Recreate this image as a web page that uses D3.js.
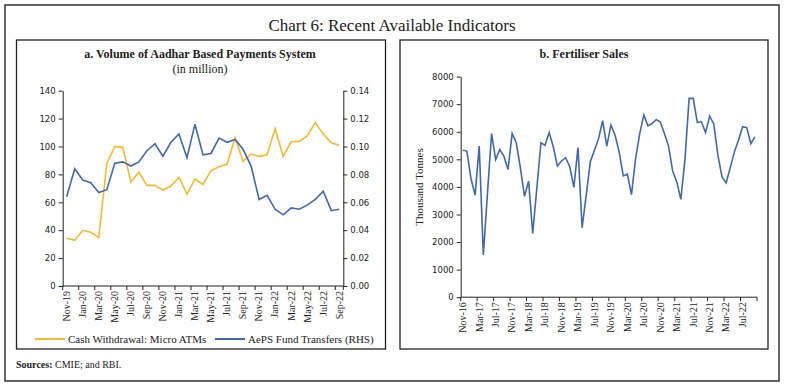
<!DOCTYPE html>
<html>
<head>
<meta charset="utf-8">
<script src="https://cdn.jsdelivr.net/npm/d3@7"></script>
<style>
  body { margin: 0; background: #fff; }
  .tick text { font-family: "DejaVu Sans", Verdana, sans-serif; font-size: 8.5px; fill: #222; }
  .xlab text { font-family: "Liberation Serif", "Times New Roman", serif; font-size: 10px; }
  .domain, .tick line { stroke: #222; }
</style>
</head>
<body>
<div id="chart"></div>
<script>
// Panel a: Aadhar based payments, Nov-19 .. Sep-22
const aepsMonths = ['Nov-19','Dec-19','Jan-20','Feb-20','Mar-20','Apr-20','May-20','Jun-20','Jul-20','Aug-20',
  'Sep-20','Oct-20','Nov-20','Dec-20','Jan-21','Feb-21','Mar-21','Apr-21','May-21','Jun-21','Jul-21','Aug-21',
  'Sep-21','Oct-21','Nov-21','Dec-21','Jan-22','Feb-22','Mar-22','Apr-22','May-22','Jun-22','Jul-22','Aug-22','Sep-22'];
const cashWithdrawal = [34.2, 32.7, 39.9, 38.5, 34.9, 87.9, 100.1, 99.4, 74.5, 81.7, 72.1, 72.1, 68.8, 71.7,
  77.9, 65.9, 76.7, 72.9, 82.7, 85.5, 87.2, 106.3, 89.3, 94.6, 92.9, 94.1, 112.8, 92.9, 103.4, 103.7, 107.5,
  117.1, 108.9, 102.7, 100.8];
const aepsTransfers = [0.064, 0.084, 0.076, 0.074, 0.067, 0.069, 0.088, 0.089, 0.086, 0.089, 0.097, 0.102,
  0.093, 0.103, 0.109, 0.092, 0.116, 0.094, 0.095, 0.106, 0.103, 0.105, 0.098, 0.086, 0.062, 0.065, 0.055,
  0.051, 0.056, 0.055, 0.058, 0.062, 0.068, 0.054, 0.055];
const leftTicks = [0, 20, 40, 60, 80, 100, 120, 140];
const rightTicks = [0, 0.02, 0.04, 0.06, 0.08, 0.10, 0.12, 0.14];

// Panel b: fertiliser sales, Nov-16 .. Oct-22
const fertMonths = ['Nov-16','Dec-16',
  'Jan-17','Feb-17','Mar-17','Apr-17','May-17','Jun-17','Jul-17','Aug-17','Sep-17','Oct-17','Nov-17','Dec-17',
  'Jan-18','Feb-18','Mar-18','Apr-18','May-18','Jun-18','Jul-18','Aug-18','Sep-18','Oct-18','Nov-18','Dec-18',
  'Jan-19','Feb-19','Mar-19','Apr-19','May-19','Jun-19','Jul-19','Aug-19','Sep-19','Oct-19','Nov-19','Dec-19',
  'Jan-20','Feb-20','Mar-20','Apr-20','May-20','Jun-20','Jul-20','Aug-20','Sep-20','Oct-20','Nov-20','Dec-20',
  'Jan-21','Feb-21','Mar-21','Apr-21','May-21','Jun-21','Jul-21','Aug-21','Sep-21','Oct-21','Nov-21','Dec-21',
  'Jan-22','Feb-22','Mar-22','Apr-22','May-22','Jun-22','Jul-22','Aug-22','Sep-22','Oct-22'];
const fertiliser = [5330, 5300, 4300, 3700, 5480, 1530, 3750, 5935, 4990, 5355, 5110, 4630, 5935, 5600, 4700,
  3660, 4210, 2310, 3950, 5600, 5510, 5970, 5450, 4760, 4940, 5060, 4730, 3980, 5430, 2520, 3700, 4910, 5330,
  5750, 6400, 5480, 6240, 5880, 5270, 4400, 4460, 3720, 5030, 5935, 6610, 6215, 6300, 6440, 6360, 5935, 5480,
  4580, 4180, 3550, 5000, 7210, 7210, 6335, 6360, 5970, 6565, 6275, 5150, 4360, 4145, 4700, 5270, 5690, 6180,
  6150, 5570, 5815];
const fertTicks = [0, 1000, 2000, 3000, 4000, 5000, 6000, 7000, 8000];

const yellow = '#f9b92c';
const blue = '#4068b2';
const serif = '"Liberation Serif", "Times New Roman", serif';

let svg = d3.select('#chart')
            .append('svg')
            .attr('width', 785)
            .attr('height', 386);

// Frames
svg.append('rect').attr('x', 5).attr('y', 5).attr('width', 774).attr('height', 376)
   .attr('fill', 'none').attr('stroke', '#333').attr('stroke-width', 1.5);
svg.append('rect').attr('x', 16.5).attr('y', 40).attr('width', 369).attr('height', 309)
   .attr('fill', 'none').attr('stroke', '#222').attr('stroke-width', 1.3);
svg.append('rect').attr('x', 400).attr('y', 40).attr('width', 368).attr('height', 309)
   .attr('fill', 'none').attr('stroke', '#222').attr('stroke-width', 1.3);

// Titles
svg.append('text').attr('x', 392).attr('y', 31).attr('text-anchor', 'middle')
   .style('font-family', serif).style('font-size', '17px').attr('fill', '#222')
   .text('Chart 6: Recent Available Indicators');
svg.append('text').attr('x', 200).attr('y', 58).attr('text-anchor', 'middle')
   .style('font-family', serif).style('font-size', '12px').style('font-weight', 'bold').attr('fill', '#222')
   .text('a. Volume of Aadhar Based Payments System');
svg.append('text').attr('x', 200).attr('y', 73).attr('text-anchor', 'middle')
   .style('font-family', serif).style('font-size', '12px').attr('fill', '#222')
   .text('(in million)');
svg.append('text').attr('x', 584).attr('y', 58).attr('text-anchor', 'middle')
   .style('font-family', serif).style('font-size', '12px').style('font-weight', 'bold').attr('fill', '#222')
   .text('b. Fertiliser Sales');

// Category axis: labels at band centres, ticks on band edges
function categoryAxis(g, x, step, y) {
  let labels = x.domain().filter((d, i) => i % step === 0);
  let edges = labels.map(d => x(d)).concat([x.range()[1]]);
  g.append('line').attr('x1', x.range()[0]).attr('x2', x.range()[1]).attr('y1', y).attr('y2', y)
   .attr('stroke', '#222');
  g.selectAll('.xt').data(edges).enter().append('line')
   .attr('x1', d => d).attr('x2', d => d).attr('y1', y).attr('y2', y + 4).attr('stroke', '#222');
  g.append('g').attr('class', 'xlab').selectAll('text').data(labels).enter().append('text')
   .attr('transform', d => 'translate(' + (x(d) + x.bandwidth() / 2) + ',' + (y + 5) + ') rotate(-90)')
   .attr('dy', '0.33em').attr('text-anchor', 'end').attr('fill', '#222')
   .text(d => d);
}

// ---- Panel a ----
let xa = d3.scaleBand().domain(aepsMonths).range([62.7, 343.3]);
let ya = d3.scaleLinear().domain([0, 140]).range([286, 90.7]);
let yb = d3.scaleLinear().domain([0, 0.14]).range([286, 90.7]);
let pa = svg.append('g');

pa.append('g').attr('transform', 'translate(62.7,0)')
  .call(d3.axisLeft(ya).tickValues(leftTicks).tickSize(4).tickSizeOuter(0));
pa.append('g').attr('transform', 'translate(343.3,0)')
  .call(d3.axisRight(yb).tickValues(rightTicks).tickFormat(d3.format('.2f')).tickSize(4).tickSizeOuter(0));
categoryAxis(pa, xa, 2, 286);

let lineCash = d3.line().x((d, i) => xa(aepsMonths[i]) + xa.bandwidth() / 2).y(d => ya(d));
let lineAeps = d3.line().x((d, i) => xa(aepsMonths[i]) + xa.bandwidth() / 2).y(d => yb(d));
pa.append('path').datum(cashWithdrawal).attr('d', lineCash)
  .attr('fill', 'none').attr('stroke', yellow).attr('stroke-width', 1.6);
pa.append('path').datum(aepsTransfers).attr('d', lineAeps)
  .attr('fill', 'none').attr('stroke', blue).attr('stroke-width', 1.6);

// Legend
let legend = [{name: 'Cash Withdrawal: Micro ATMs', color: yellow, x: 35},
              {name: 'AePS Fund Transfers (RHS)', color: blue, x: 215}];
let lg = pa.selectAll('.lg').data(legend).enter().append('g');
lg.append('line').attr('x1', d => d.x).attr('x2', d => d.x + 30).attr('y1', 339).attr('y2', 339)
  .attr('stroke', d => d.color).attr('stroke-width', 2);
lg.append('text').attr('x', d => d.x + 33).attr('y', 339).attr('dy', '0.33em')
  .style('font-family', serif).style('font-size', '11px').attr('fill', '#222')
  .text(d => d.name);

// ---- Panel b ----
let xf = d3.scaleBand().domain(fertMonths).range([460.7, 757]);
let yf = d3.scaleLinear().domain([0, 8000]).range([297.2, 76.6]);
let pb = svg.append('g');

pb.append('g').attr('transform', 'translate(460.7,0)')
  .call(d3.axisLeft(yf).tickValues(fertTicks).tickFormat(d3.format('d')).tickSize(4).tickSizeOuter(0));
categoryAxis(pb, xf, 4, 297.2);

pb.append('text').attr('transform', 'translate(419,187) rotate(-90)').attr('text-anchor', 'middle')
  .attr('dy', '0.33em').style('font-family', serif).style('font-size', '11px').attr('fill', '#222')
  .text('Thousand Tonnes');

let lineFert = d3.line().x((d, i) => xf(fertMonths[i]) + xf.bandwidth() / 2).y(d => yf(d));
pb.append('path').datum(fertiliser).attr('d', lineFert)
  .attr('fill', 'none').attr('stroke', blue).attr('stroke-width', 1.6);

// Sources
let src = svg.append('text').attr('x', 16).attr('y', 368)
  .style('font-family', serif).style('font-size', '10px').attr('fill', '#222');
src.append('tspan').style('font-weight', 'bold').text('Sources: ');
src.append('tspan').text('CMIE; and RBI.');
</script>
</body>
</html>
